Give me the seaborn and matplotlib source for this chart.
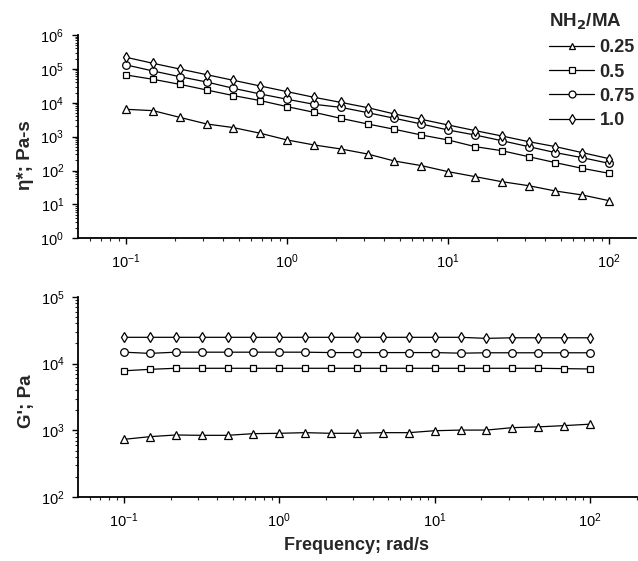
import numpy as np
import pandas as pd
import matplotlib
matplotlib.use("Agg")
import matplotlib.pyplot as plt
from matplotlib.ticker import LogLocator, NullFormatter, LogFormatterSciNotation
import seaborn as sns

# Angular frequency sweep, rad/s
freq = [0.1, 0.147, 0.215, 0.316, 0.464, 0.681, 1.0, 1.47, 2.15, 3.16,
        4.64, 6.81, 10.0, 14.7, 21.5, 31.6, 46.4, 68.1, 100.0]

ratios = ["0.25", "0.5", "0.75", "1.0"]

# Complex viscosity eta*, Pa-s
eta_025 = [6410, 5860, 3720, 2370, 1850, 1260, 798, 569, 434, 308,
           191, 140, 92.7, 66.1, 47.0, 35.8, 24.9, 19.0, 12.9]
eta_05 = [66100, 49300, 35100, 23900, 16300, 11600, 7690, 5230, 3480, 2370,
          1650, 1120, 798, 508, 386, 257, 171, 116, 82.8]
eta_075 = [131000, 86800, 59100, 41100, 26700, 18200, 12700, 9000, 7350, 5120,
           3480, 2370, 1570, 1120, 762, 508, 338, 240, 163]
eta_10 = [220000, 146000, 99500, 67600, 46000, 31300, 21300, 14500, 10300, 7200,
          4670, 3250, 2210, 1510, 1050, 713, 508, 338, 224]

# Storage modulus G', Pa
g_025 = [736, 807, 855, 845, 845, 895, 906, 926, 906, 906,
         926, 926, 990, 1012, 1012, 1100, 1130, 1180, 1240]
g_05 = [7800, 8200, 8500, 8500, 8500, 8500, 8500, 8500, 8500, 8500,
        8500, 8500, 8500, 8500, 8500, 8500, 8500, 8400, 8300]
g_075 = [14800, 14200, 14800, 14800, 14800, 14800, 14800, 14800, 14600, 14600,
         14600, 14600, 14600, 14300, 14500, 14500, 14500, 14500, 14500]
g_10 = [24700, 24700, 24700, 24700, 24700, 24700, 24700, 24700, 24700, 24700,
        24700, 24700, 24700, 24700, 23800, 24300, 24300, 24300, 24300]

eta_series = [eta_025, eta_05, eta_075, eta_10]
g_series = [g_025, g_05, g_075, g_10]
markers = ["^", "s", "o", "d"]
msizes = [5.5, 5.0, 5.5, 5.5]

sns.set_theme(style="ticks")
plt.rcParams["font.family"] = ["Liberation Sans", "DejaVu Sans"]
plt.rcParams["mathtext.default"] = "regular"

fig = plt.figure(figsize=(6.38, 5.61), dpi=100)
W, H = 638.0, 561.0
ax1 = fig.add_axes([78 / W, 1 - 238.3 / H, (636 - 78) / W, (238.3 - 35) / H])
ax2 = fig.add_axes([78.3 / W, 1 - 497.3 / H, (636.7 - 78.3) / W, (497.3 - 296.7) / H])

line_kw = dict(color="black", linewidth=0.9,
               markerfacecolor="white", markeredgecolor="black",
               markeredgewidth=0.9)

for vals, mk, ms, lab in zip(eta_series, markers, msizes, ratios):
    sns.lineplot(x=freq, y=vals, ax=ax1, marker=mk, markersize=ms, label=lab, **line_kw)
for vals, mk, ms, lab in zip(g_series, markers, msizes, ratios):
    sns.lineplot(x=freq, y=vals, ax=ax2, marker=mk, markersize=ms, legend=False, **line_kw)

for ax in (ax1, ax2):
    ax.set_xscale("log")
    ax.set_yscale("log")
    ax.xaxis.set_major_locator(LogLocator(base=10, numticks=20))
    ax.xaxis.set_minor_locator(LogLocator(base=10, subs=np.arange(2, 10), numticks=20))
    ax.yaxis.set_major_locator(LogLocator(base=10, numticks=20))
    ax.yaxis.set_minor_locator(LogLocator(base=10, subs=np.arange(2, 10), numticks=20))
    ax.xaxis.set_major_formatter(LogFormatterSciNotation())
    ax.yaxis.set_major_formatter(LogFormatterSciNotation())
    ax.xaxis.set_minor_formatter(NullFormatter())
    ax.yaxis.set_minor_formatter(NullFormatter())
    ax.tick_params(which="major", direction="out", length=4, width=1.0,
                   labelsize=10.5, colors="black", pad=6)
    ax.tick_params(which="minor", direction="out", length=2.5, width=0.8)
    for side in ("top", "right"):
        ax.spines[side].set_visible(False)
    for side in ("left", "bottom"):
        ax.spines[side].set_linewidth(1.3)
        ax.spines[side].set_color("black")
    ax.set_xlabel("")
    ax.set_ylabel("")

ax1.set_xlim(0.0503, 147)
ax1.set_ylim(1, 1e6)
ax2.set_xlim(0.0508, 200)
ax2.set_ylim(1e2, 1e5)

# Axis titles
fig.text(26 / W, 1 - 155 / H, "η*; Pa-s", rotation=90, ha="center", va="center",
         fontsize=13.5, fontweight="bold")
fig.text(26 / W, 1 - 401 / H, "G'; Pa", rotation=90, ha="center", va="center",
         fontsize=13.5, fontweight="bold")
fig.text(356 / W, 1 - 545 / H, "Frequency; rad/s", ha="center", va="center",
         fontsize=13, fontweight="bold")

# Legend in the upper-right corner
leg = ax1.legend(loc="upper left", bbox_to_anchor=(549 / W, 1 - 11 / H),
                 bbox_transform=fig.transFigure, frameon=False,
                 title=r"NH$_\mathbf{2}$/MA", alignment="left",
                 prop={"weight": "bold", "size": 13},
                 title_fontproperties={"weight": "bold", "size": 13.5},
                 handlelength=2.5, handletextpad=0.3, labelspacing=0.4,
                 borderpad=0.0, borderaxespad=0.0)
leg._legend_box.sep = 6
for h in leg.legend_handles:
    h.set_markersize(5)

fig.savefig("out.png", dpi=100, facecolor="white")
